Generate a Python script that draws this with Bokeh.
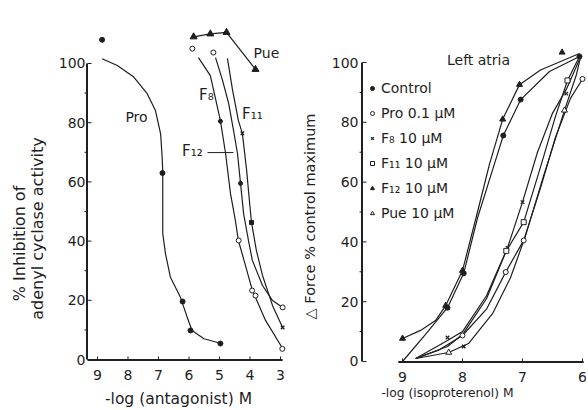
from math import pi
from bokeh.plotting import figure
from bokeh.layouts import row
from bokeh.models import Range1d, Label, Legend, LegendItem
from bokeh.core.properties import value
from bokeh.embed import file_html
from bokeh.resources import INLINE

INK = "#1e1e1e"
FONT = "DejaVu Sans"

# ---------------- Left panel: % inhibition of adenyl cyclase ----------------
x_ticks_left = [9, 8, 7, 6, 5, 4, 3]
y_ticks = [0, 20, 40, 60, 80, 100]
y_minor = [10, 30, 50, 70, 90]

pro_x = [8.85, 6.87, 6.21, 5.95, 4.97]
pro_y = [108, 63, 19.6, 9.8, 5.4]
pro_curve_x = [8.85, 8.35, 7.81, 7.37, 7.10, 6.93, 6.88, 6.86, 6.86, 6.77, 6.61, 6.28, 6.06, 5.90, 5.51, 4.97]
pro_curve_y = [101.6, 99.3, 95.4, 89.8, 84.1, 76.2, 68.3, 63.3, 42.5, 35.7, 27.8, 21.0, 14.3, 9.8, 7.0, 5.5]

f8_open_x = [5.89, 4.37, 3.93, 3.82, 2.94]
f8_open_y = [105, 40.2, 23.3, 21.6, 3.6]
f8_fill_x = [4.97]
f8_fill_y = [80.5]
f8_curve_x = [5.69, 5.30, 4.97, 4.80, 4.64, 4.48, 4.38, 4.15, 3.92, 3.49, 2.93]
f8_curve_y = [102, 95.9, 80.7, 69.6, 56.1, 47, 40.2, 31.8, 23.3, 13.2, 3.7]

f12_open_x = [5.2, 2.93]
f12_open_y = [103.7, 17.6]
f12_fill_x = [4.31]
f12_fill_y = [59.5]
f12_curve_x = [5.13, 4.90, 4.70, 4.54, 4.41, 4.31, 4.21, 4.05, 3.92, 3.59, 3.26, 2.93]
f12_curve_y = [102, 94.3, 86.5, 77.4, 69.6, 59.5, 49.3, 40.2, 33.4, 25, 19.9, 17.6]

f11_x_x = [4.25, 2.93]
f11_x_y = [76.4, 10.8]
f11_sq_x = [3.95]
f11_sq_y = [46.3]
f11_curve_x = [4.74, 4.57, 4.38, 4.25, 4.11, 4.02, 3.95, 3.79, 3.59, 3.26, 2.93]
f11_curve_y = [101.7, 90.9, 80.7, 76.4, 63.9, 53.7, 46.3, 36.8, 28.4, 18.2, 10.8]

pue_x = [5.85, 5.3, 4.77, 3.82]
pue_y = [109, 110, 110.5, 98]

# ---------------- Right panel: left atria force ----------------
x_ticks_right = [9, 8, 7, 6]

ctrl_x = [8.25, 7.98, 7.32, 7.03, 6.05]
ctrl_y = [18, 29.5, 75.6, 87.6, 102]
ctrl_curve_x = [9.0, 8.62, 8.25, 7.98, 7.75, 7.5, 7.32, 7.03, 6.55, 6.05]
ctrl_curve_y = [0, 9, 18, 29.5, 48, 64, 75.6, 87.6, 97, 102]

f12r_x = [9.0, 8.28, 8.0, 7.33, 7.05, 6.34]
f12r_y = [7.7, 18.7, 30.4, 81, 92.6, 103.4]
f12r_curve_x = [9.0, 8.7, 8.45, 8.28, 8.0, 7.75, 7.55, 7.33, 7.05, 6.7, 6.05]
f12r_curve_y = [7.7, 10.4, 13.7, 18.7, 30.4, 50, 66, 81, 92.6, 97.5, 103]

pror_x = [8.0, 7.28, 6.98, 6.0]
pror_y = [8.7, 29.9, 40.5, 94.5]
pror_curve_x = [8.78, 8.4, 8.0, 7.6, 7.28, 6.98, 6.7, 6.45, 6.2, 6.0]
pror_curve_y = [1, 3.8, 8.7, 17.5, 29.9, 40.5, 58, 75, 88, 94.5]

f8r_x = [8.25, 7.98, 7.25, 7.0, 6.27]
f8r_y = [8.0, 5.0, 38, 53.3, 89.6]
f8r_curve_x = [8.78, 8.25, 8.0, 7.6, 7.25, 7.0, 6.75, 6.5, 6.27, 6.05]
f8r_curve_y = [1, 7, 10, 22, 38, 53.3, 70, 83, 91, 101]

f11r_x = [7.27, 6.98, 6.25]
f11r_y = [37, 46.6, 94]
f11r_curve_x = [8.78, 8.25, 8.0, 7.6, 7.27, 6.98, 6.7, 6.45, 6.25, 6.05]
f11r_curve_y = [1, 5, 9, 21, 37, 46.6, 65, 82, 94, 102]

puer_x = [8.23, 6.3]
puer_y = [3.0, 84]
puer_curve_x = [8.78, 8.23, 7.9, 7.5, 7.2, 6.95, 6.65, 6.3, 6.1, 6.03]
puer_curve_y = [1, 3, 6, 16, 28, 42, 62, 84, 96, 102]

LW = 1.2


def txt(p, x, y, text, size="14px", align="center", angle=0.0):
    p.text(x=x, y=y, text=text, angle=angle, text_align=align, text_baseline="middle",
           text_font=value(FONT), text_font_size=value(size), text_color=INK)


def draw_axes(p, xticks, x_bounds, y_axis_x, xppu, yppu, xlab_y, ylab_x):
    """Axis rules, ticks and tick labels drawn through the panel's own scales.
    Rules are built from 1 px strokes (two side by side for the thicker rules)."""
    xt = [float(t) for t in xticks]
    yt = [float(t) for t in y_ticks]
    ym = [float(t) for t in y_minor]
    ax = float(y_axis_x)
    x_lo, x_hi = float(x_bounds[0]), float(x_bounds[1])
    dy = 1.0 / yppu
    dx = 1.0 / xppu
    # horizontal axis rule (two 1 px strokes)
    p.segment(x0=[x_lo, x_lo], y0=[0.0, -dy], x1=[x_hi, x_hi], y1=[0.0, -dy],
              line_color=INK, line_width=1)
    # inward x ticks
    p.segment(x0=xt, y0=[0.0] * len(xt), x1=xt, y1=[3.0 * dy] * len(xt),
              line_color=INK, line_width=1)
    # vertical axis rule 0-100 (two 1 px strokes)
    p.segment(x0=[ax, ax + dx], y0=[yt[0], yt[0]], x1=[ax, ax + dx], y1=[yt[-1], yt[-1]],
              line_color=INK, line_width=1)
    # inward major ticks, outward minor ticks
    p.segment(x0=[ax] * len(yt), y0=yt, x1=[ax - 4.0 * dx] * len(yt), y1=yt,
              line_color=INK, line_width=1)
    p.segment(x0=[ax] * len(ym), y0=ym, x1=[ax + 3.0 * dx] * len(ym), y1=ym,
              line_color=INK, line_width=1)
    txt(p, xt, [xlab_y] * len(xt), [str(t) for t in xticks])
    txt(p, [ylab_x] * len(yt), yt, [str(t) for t in y_ticks], align="right")


def lab(p, x, y, text, size="14px"):
    p.add_layout(Label(x=x, y=y, text=text, text_align="center",
                       text_baseline="middle", text_font=FONT, text_font_size=size,
                       text_color=INK))


def bare_figure(width, x_range, y_range):
    p = figure(width=width, height=408, x_range=x_range, y_range=y_range,
               x_axis_type=None, y_axis_type=None, output_backend="svg",
               toolbar_location=None, min_border=0)
    p.min_border_left = p.min_border_right = p.min_border_top = p.min_border_bottom = 0
    p.outline_line_color = None
    return p


# ---------------- build left ----------------
left = bare_figure(290, Range1d(12.180, 2.672), Range1d(-16.55, 121.28))

left.line(pro_curve_x, pro_curve_y, line_color=INK, line_width=LW)
left.line(f8_curve_x, f8_curve_y, line_color=INK, line_width=LW)
left.line(f12_curve_x, f12_curve_y, line_color=INK, line_width=LW)
left.line(f11_curve_x, f11_curve_y, line_color=INK, line_width=LW)
left.line(pue_x, pue_y, line_color=INK, line_width=LW)

left.scatter(pro_x, pro_y, marker="circle", size=5, fill_color=INK, line_color=INK)
left.scatter(f8_open_x, f8_open_y, marker="circle", size=5, fill_color="white", line_color=INK)
left.scatter(f8_fill_x, f8_fill_y, marker="circle", size=4, fill_color=INK, line_color=INK)
left.scatter(f12_open_x, f12_open_y, marker="circle", size=5, fill_color="white", line_color=INK)
left.scatter(f12_fill_x, f12_fill_y, marker="circle", size=4, fill_color=INK, line_color=INK)
left.scatter(f11_x_x, f11_x_y, marker="x", size=5, line_color=INK, line_width=1.3)
left.scatter(f11_sq_x, f11_sq_y, marker="square", size=4, fill_color=INK, line_color=INK)
left.scatter(pue_x, pue_y, marker="triangle", size=7, fill_color=INK, line_color=INK)

# leader line for the F12 label
left.segment(x0=[5.394], y0=[69.9], x1=[4.541], y1=[69.9], line_color=INK, line_width=1)

draw_axes(left, x_ticks_left, (9.328, 2.93), 9.328, 30.5, 2.96, -5.4, 9.394)
txt(left, [6.344], [-13.2], ["-log (antagonist) M"], size="15.5px")
txt(left, [11.557], [39.2], ["% Inhibition of"], size="16px", angle=pi / 2)
txt(left, [10.967], [44.26], ["adenyl cyclase activity"], size="16px", angle=pi / 2)

lab(left, 7.72, 81.8, "Pro")
lab(left, 5.43, 89.5, "F₈", size="15px")
lab(left, 3.92, 83.1, "F₁₁", size="15px")
lab(left, 5.89, 70.3, "F₁₂", size="15px")
lab(left, 3.46, 103.7, "Pue")

# ---------------- build right ----------------
right = bare_figure(296, Range1d(10.867, 5.933), Range1d(-15.72, 120.74))

right.line(ctrl_curve_x, ctrl_curve_y, line_color=INK, line_width=LW)
right.line(f12r_curve_x, f12r_curve_y, line_color=INK, line_width=LW)
right.line(pror_curve_x, pror_curve_y, line_color=INK, line_width=LW)
right.line(f8r_curve_x, f8r_curve_y, line_color=INK, line_width=LW)
right.line(f11r_curve_x, f11r_curve_y, line_color=INK, line_width=LW)
right.line(puer_curve_x, puer_curve_y, line_color=INK, line_width=LW)

r_ctrl = right.scatter(ctrl_x, ctrl_y, marker="circle", size=5, fill_color=INK, line_color=INK)
r_pro = right.scatter(pror_x, pror_y, marker="circle", size=5, fill_color="white", line_color=INK)
r_f8 = right.scatter(f8r_x, f8r_y, marker="x", size=5, line_color=INK, line_width=1.3)
r_f11 = right.scatter(f11r_x, f11r_y, marker="square", size=5, fill_color="white", line_color=INK)
r_f12 = right.scatter(f12r_x, f12r_y, marker="triangle", size=6, fill_color=INK, line_color=INK)
r_pue = right.scatter(puer_x, puer_y, marker="triangle", size=6, fill_color="white", line_color=INK)

draw_axes(right, x_ticks_right, (9.07, 5.98), 9.667, 60.0, 2.99, -5.35, 9.733)
txt(right, [8.25], [-10.37], ["-log (isoproterenol) M"], size="12.3px")
txt(right, [10.55], [48.5], ["△ Force % control maximum"], size="14.5px", angle=pi / 2)

legend = Legend(items=[
    LegendItem(label="Control", renderers=[r_ctrl]),
    LegendItem(label="Pro 0.1 μM", renderers=[r_pro]),
    LegendItem(label="F₈ 10 μM", renderers=[r_f8]),
    LegendItem(label="F₁₁ 10 μM", renderers=[r_f11]),
    LegendItem(label="F₁₂ 10 μM", renderers=[r_f12]),
    LegendItem(label="Pue 10 μM", renderers=[r_pue]),
], location=(75, 183), background_fill_alpha=0, border_line_alpha=0,
   label_text_font=FONT, label_text_font_size="14px", label_text_color=INK,
   glyph_width=10, glyph_height=14, label_height=20, spacing=5, padding=2, margin=0,
   label_standoff=4)
right.add_layout(legend)

lab(right, 7.733, 100.7, "Left atria")

page = row(left, right)
open("out.html", "w").write(file_html(page, INLINE))
